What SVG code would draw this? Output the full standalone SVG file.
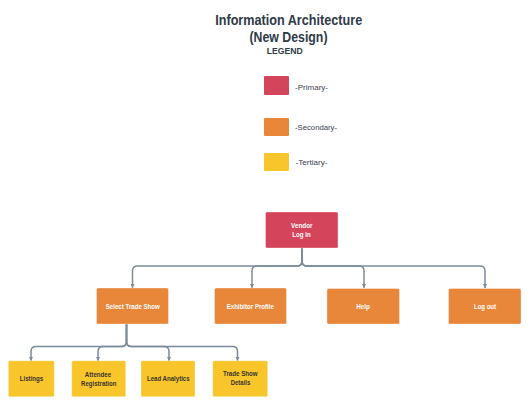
<svg xmlns="http://www.w3.org/2000/svg" width="530" height="406" viewBox="0 0 530 406">
<defs>
<style>
.t{font-family:"Liberation Sans",Arial,sans-serif;font-weight:bold;fill:#2E3A48;text-anchor:middle}
.lg{font-family:"Liberation Sans",Arial,sans-serif;font-size:7.5px;fill:#3B4350}
.bt{font-family:"Liberation Sans",Arial,sans-serif;font-size:7.5px;font-weight:bold;text-anchor:middle}
.w{fill:#FFFFFF}
.d{fill:#3A3530}
.p{fill:#D4455B}
.s{fill:#E8863A}
.y{fill:#F8C52A}
.bx{stroke:#FFFFFF;stroke-opacity:0.35;stroke-width:1}
.c{fill:none;stroke:#7B8B9A;stroke-width:1.5;marker-end:url(#ah)}
</style>
<marker id="ah" viewBox="0 0 4 4" refX="4" refY="2" markerWidth="4.5" markerHeight="4.5" markerUnits="userSpaceOnUse" orient="auto">
<path d="M0,0 L4,2 L0,4 z" fill="#7B8B9A"/>
</marker>
</defs>
<rect width="530" height="406" fill="#FFFFFF"/>

<g id="title">
<text class="t" x="288.7" y="25" font-size="15.5" textLength="147" lengthAdjust="spacingAndGlyphs">Information Architecture</text>
<text class="t" x="288.5" y="42" font-size="15.5" textLength="78" lengthAdjust="spacingAndGlyphs">(New Design)</text>
<text class="t" x="284.7" y="54" font-size="8.5" textLength="36" lengthAdjust="spacingAndGlyphs">LEGEND</text>
</g>

<g id="legend">
<rect class="p" x="264" y="76" width="25" height="19" rx="1"/>
<text class="lg" x="295" y="90" textLength="33" lengthAdjust="spacingAndGlyphs">-Primary-</text>
<rect class="s" x="264" y="118" width="25" height="18" rx="1"/>
<text class="lg" x="295" y="130" textLength="42" lengthAdjust="spacingAndGlyphs">-Secondary-</text>
<rect class="y" x="264" y="153" width="25" height="18" rx="1"/>
<text class="lg" x="295.5" y="165" textLength="32" lengthAdjust="spacingAndGlyphs">-Tertiary-</text>
</g>

<g id="connectors">
<path class="c" d="M302,248 V261 Q302,266 297,266 H137.5 Q132.5,266 132.5,271 V288"/>
<path class="c" d="M302,248 V261 Q302,266 297,266 H257 Q252,266 252,271 V288"/>
<path class="c" d="M302,248 V261 Q302,266 307,266 H359 Q364,266 364,271 V288"/>
<path class="c" d="M302,248 V261 Q302,266 307,266 H480 Q485,266 485,271 V288"/>
<path class="c" d="M126.5,324 V341.5 Q126.5,346.5 121.5,346.5 H36 Q31,346.5 31,351.5 V361"/>
<path class="c" d="M126.5,324 V341.5 Q126.5,346.5 121.5,346.5 H103 Q98,346.5 98,351.5 V361"/>
<path class="c" d="M126.5,324 V341.5 Q126.5,346.5 131.5,346.5 H164 Q169,346.5 169,351.5 V361"/>
<path class="c" d="M126.5,324 V341.5 Q126.5,346.5 131.5,346.5 H232.5 Q237.5,346.5 237.5,351.5 V361"/>
</g>

<g id="vendor-login">
<rect class="p bx" x="265.5" y="212" width="72.5" height="36" rx="1.5"/>
<text class="bt w" x="301.8" y="227.5" textLength="21.5" lengthAdjust="spacingAndGlyphs">Vendor</text>
<text class="bt w" x="301.5" y="236.5" textLength="18.5" lengthAdjust="spacingAndGlyphs">Log in</text>
</g>

<g id="select-trade-show">
<rect class="s bx" x="96.5" y="288" width="72" height="36" rx="1.5"/>
<text class="bt w" x="132.8" y="308.8" textLength="54" lengthAdjust="spacingAndGlyphs">Select Trade Show</text>
</g>

<g id="exhibitor-profile">
<rect class="s bx" x="214.5" y="288" width="72" height="36" rx="1.5"/>
<text class="bt w" x="250.3" y="308.8" textLength="47.3" lengthAdjust="spacingAndGlyphs">Exhibitor Profile</text>
</g>

<g id="help">
<rect class="s bx" x="327" y="288.5" width="72.5" height="35.5" rx="1.5"/>
<text class="bt w" x="363" y="308.8" textLength="13.7" lengthAdjust="spacingAndGlyphs">Help</text>
</g>

<g id="log-out">
<rect class="s bx" x="448.5" y="288.5" width="72.5" height="35.5" rx="1.5"/>
<text class="bt w" x="485" y="308.8" textLength="22" lengthAdjust="spacingAndGlyphs">Log out</text>
</g>

<g id="listings">
<rect class="y bx" x="8.3" y="360.7" width="46" height="36" rx="1.5"/>
<text class="bt d" x="31.5" y="381.2" textLength="23.6" lengthAdjust="spacingAndGlyphs">Listings</text>
</g>

<g id="attendee-registration">
<rect class="y bx" x="71.7" y="360.7" width="54" height="36" rx="1.5"/>
<text class="bt d" x="98" y="376.5" textLength="26.3" lengthAdjust="spacingAndGlyphs">Attendee</text>
<text class="bt d" x="98.7" y="385.5" textLength="35.3" lengthAdjust="spacingAndGlyphs">Registration</text>
</g>

<g id="lead-analytics">
<rect class="y bx" x="141" y="360.7" width="54" height="36" rx="1.5"/>
<text class="bt d" x="168.3" y="381.2" textLength="42.7" lengthAdjust="spacingAndGlyphs">Lead Analytics</text>
</g>

<g id="trade-show-details">
<rect class="y bx" x="212.7" y="360.7" width="55" height="36" rx="1.5"/>
<text class="bt d" x="240.3" y="376" textLength="34.7" lengthAdjust="spacingAndGlyphs">Trade Show</text>
<text class="bt d" x="240.5" y="385" textLength="19.6" lengthAdjust="spacingAndGlyphs">Details</text>
</g>
</svg>
